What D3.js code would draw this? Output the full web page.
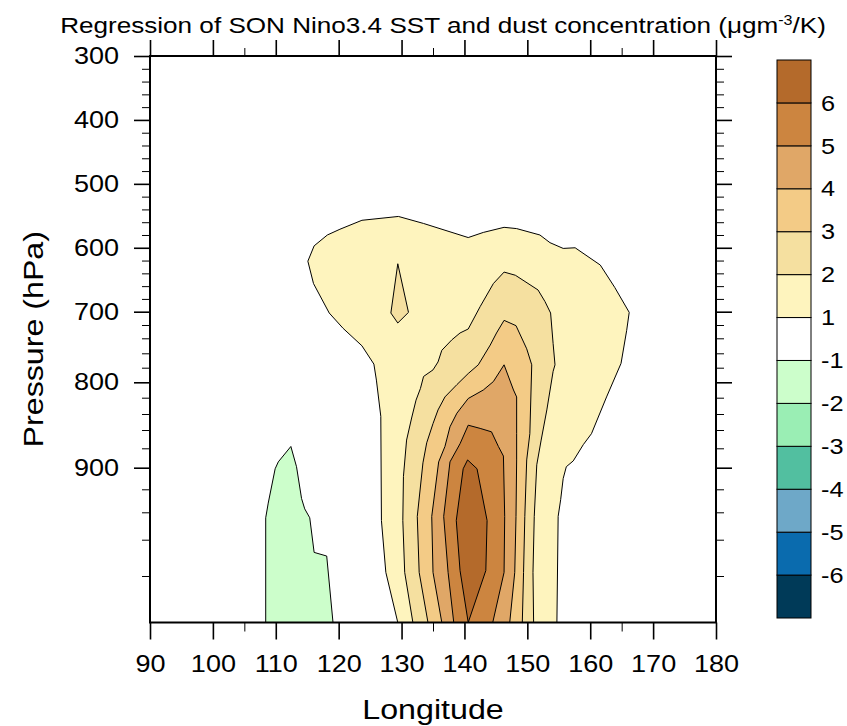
<!DOCTYPE html>
<html>
<head>
<meta charset="utf-8">
<title>Regression of SON Nino3.4 SST and dust concentration</title>
<script src="https://cdn.jsdelivr.net/npm/d3@7"></script>
<style>
    body { margin: 0; background: #fff; }
    svg text { font-family: "Liberation Sans", Arial, sans-serif; fill: #000; }
    .wide { transform-box: fill-box; transform-origin: center; transform: scaleX(1.15); }
    .ylab text { transform-box: fill-box; transform-origin: right center; transform: scaleX(1.15); }
    .xlab text { transform-box: fill-box; transform-origin: center; transform: scaleX(1.15); }
    .cblab { transform-box: fill-box; transform-origin: left center; transform: scaleX(1.15); }
</style>
</head>
<body>
<svg id="chart" width="847" height="726"></svg>
<script>
// contour intervals and their fills, lowest to highest
var levels = [-6, -5, -4, -3, -2, -1, 1, 2, 3, 4, 5, 6];
var fillColors = ["#003a58", "#0a6bae", "#6ea8c8", "#52bfa0", "#9aeeb4", "#ccfecb", "#ffffff",
                  "#fef4be", "#f5e0a0", "#f3cb86", "#e0a767", "#cc8540", "#b46a2b"];

// tick labels
var lonTicks = [90, 100, 110, 120, 130, 140, 150, 160, 170, 180];
var lonMinor = [105, 135, 165];
var presTicks = [300, 400, 500, 600, 700, 800, 900];
var presMinor = [320, 340, 360, 380, 420, 440, 460, 480, 520, 540, 560, 580, 620, 640, 660, 680,
                 720, 740, 760, 780, 820, 840, 860, 880, 920, 940, 960, 980];

// contour rings as [longitude, hPa]
var ringPos1 = [[129.4,1000],[127.5,978],[126.8,946],[126.7,843],[126.0,797],[125.6,775],[123.7,750],
    [120.7,725],[118.5,702],[116.0,656],[115.1,621],[116.1,597],[118.2,580],[120.2,571],[123.7,557],
    [129.5,551],[133.5,562],[140.6,584],[143.0,576],[146.3,568],[148.3,570],[152.0,580],[153.6,592],
    [155.7,601],[157.6,600],[161.6,627],[163.9,662],[166.2,701],[165.8,728],[164.9,774],[162.6,819],
    [160.2,864],[158.9,876],[157.3,893],[156.2,899],[155.7,910],[155.3,929],[154.9,943],[154.7,1000]];
var ringPos2 = [[131.8,1000],[130.5,978],[130.2,946],[130.3,908],[130.8,871],[131.6,845],[132.3,823],
    [133.0,808],[133.5,792],[135.0,783],[135.8,772],[136.4,756],[138.0,742],[139.3,732],[140.6,726],
    [142.5,692],[144.6,656],[146.3,638],[148.1,643],[151.7,666],[152.8,684],[153.7,702],[154.1,747],
    [154.4,776],[154.1,785],[153.1,835],[152.2,871],[151.5,897],[151.1,943],[150.9,978],[151.0,1000]];
var islandPos2 = [[129.4,625],[131.1,701],[129.4,717],[128.3,702]];
var ringPos3 = [[134.2,1000],[132.8,978],[132.5,943],[133.4,895],[134.0,874],[135.0,852],[135.8,835],
    [136.9,819],[138.8,803],[140.6,788],[142.2,776],[144.1,749],[145.1,732],[146.3,713],[148.2,721],
    [149.9,754],[150.7,776],[150.4,864],[149.9,892],[149.6,943],[149.4,978],[149.2,1000]];
var ringPos4 = [[136.4,1000],[135.0,978],[134.8,943],[135.9,894],[136.9,878],[137.7,856],[138.8,839],
    [140.6,821],[143.0,810],[144.6,799],[146.3,776],[147.8,810],[148.3,819],[148.3,864],[148.3,892],
    [148.2,943],[148.0,978],[147.2,1000]];
var ringPos5 = [[138.3,1000],[137.4,978],[136.7,943],[137.7,894],[139.3,875],[140.6,854],[142.5,858],
    [144.3,862],[145.4,878],[146.2,888],[146.4,943],[146.3,978],[144.5,1000]];
var ringPos6 = [[140.5,892],[142.0,901],[143.6,946],[143.4,977],[140.6,1000],[139.3,977],[138.7,946],
    [139.8,901]];
var ringNeg1 = [[108.4,1000],[108.4,944],[108.8,932],[109.9,901],[110.4,894],[112.4,878],[113.3,899],
    [114.1,928],[114.6,937],[115.4,944],[116.1,967],[118.1,969],[119.1,1000]];

// rings in drawing order, each with the interval index it fills
var rings = [
    {band: 7, pts: ringPos1},
    {band: 8, pts: ringPos2},
    {band: 8, pts: islandPos2},
    {band: 9, pts: ringPos3},
    {band: 10, pts: ringPos4},
    {band: 11, pts: ringPos5},
    {band: 12, pts: ringPos6},
    {band: 5, pts: ringNeg1}
];

var svg = d3.select("#chart");
var plotL = 150, plotR = 716, plotT = 56, plotB = 622.5;

var x = d3.scaleLinear().domain([90, 180]).range([plotL, plotR]);
// the pressure axis of the original is stretched near the surface, follow its tick spacing
var y = d3.scaleLinear()
    .domain([300, 700, 720, 740, 760, 780, 800, 820, 840, 860, 880, 900, 920, 940, 960, 980, 1000])
    .range([plotT, 311.7, 325, 338.3, 353.3, 367.7, 382.3, 397.7, 414, 430, 448.3, 467.7, 489.3,
            512.3, 539.7, 576, plotB]);

svg.append("clipPath").attr("id", "plotclip")
    .append("rect").attr("x", plotL).attr("y", plotT)
    .attr("width", plotR - plotL).attr("height", plotB - plotT);

var line = d3.line().x(function(d) { return x(d[0]); }).y(function(d) { return y(d[1]); });

svg.append("g").attr("clip-path", "url(#plotclip)")
    .selectAll("path").data(rings).enter().append("path")
    .attr("d", function(d) { return line(d.pts) + "Z"; })
    .attr("fill", function(d) { return fillColors[d.band]; })
    .attr("stroke", "#000")
    .attr("stroke-width", 1)
    .attr("stroke-linejoin", "round");

// axes: major and minor ticks on all four sides, labels on left and bottom
function addAxis(axis, tx, ty, cls, width) {
    var g = svg.append("g").attr("transform", "translate(" + tx + "," + ty + ")")
        .attr("class", cls).call(axis);
    g.select(".domain").remove();
    g.selectAll("line").attr("stroke", "#000").attr("stroke-width", width);
    g.selectAll("text").attr("font-size", "23.5px").attr("font-family", null);
    return g;
}
addAxis(d3.axisLeft(y).tickValues(presTicks).tickSize(16).tickSizeOuter(0).tickPadding(15), plotL, 0, "ylab", 1.6);
addAxis(d3.axisLeft(y).tickValues(presMinor).tickSize(8).tickSizeOuter(0).tickFormat(""), plotL, 0, "", 1);
addAxis(d3.axisRight(y).tickValues(presTicks).tickSize(16).tickSizeOuter(0).tickFormat(""), plotR, 0, "", 1.6);
addAxis(d3.axisRight(y).tickValues(presMinor).tickSize(8).tickSizeOuter(0).tickFormat(""), plotR, 0, "", 1);
addAxis(d3.axisBottom(x).tickValues(lonTicks).tickSize(17).tickSizeOuter(0).tickPadding(16), 0, plotB, "xlab", 1.6);
addAxis(d3.axisBottom(x).tickValues(lonMinor).tickSize(9).tickSizeOuter(0).tickFormat(""), 0, plotB, "", 1);
addAxis(d3.axisTop(x).tickValues(lonTicks).tickSize(16).tickSizeOuter(0).tickFormat(""), 0, plotT, "", 1.6);
addAxis(d3.axisTop(x).tickValues(lonMinor).tickSize(8).tickSizeOuter(0).tickFormat(""), 0, plotT, "", 1);

svg.append("rect").attr("x", plotL).attr("y", plotT)
    .attr("width", plotR - plotL).attr("height", plotB - plotT)
    .attr("fill", "none").attr("stroke", "#000").attr("stroke-width", 2);

// titles
var title = svg.append("text").attr("class", "wide")
    .attr("x", 443).attr("y", 33).attr("text-anchor", "middle").attr("font-size", "22.7px");
title.append("tspan").text("Regression of SON Nino3.4 SST and dust concentration (\u03bcgm");
title.append("tspan").attr("dy", -8).attr("font-size", "14px").text("-3");
title.append("tspan").attr("dy", 8).text("/K)");

svg.append("text").attr("class", "wide")
    .attr("x", (plotL + plotR) / 2).attr("y", 719).attr("text-anchor", "middle")
    .attr("font-size", "28px").text("Longitude");

svg.append("g").attr("transform", "translate(43," + ((plotT + plotB) / 2) + ") rotate(-90)")
    .append("text").attr("class", "wide").attr("text-anchor", "middle")
    .attr("font-size", "28px").text("Pressure (hPa)");

// colour bar
var cb = d3.scaleLinear().domain([0, fillColors.length]).range([618, 60]);
var cbx = 777, cbw = 34;
svg.append("g").selectAll("rect").data(fillColors).enter().append("rect")
    .attr("x", cbx).attr("width", cbw)
    .attr("y", function(d, i) { return cb(i + 1); })
    .attr("height", function(d, i) { return cb(i) - cb(i + 1); })
    .attr("fill", function(d) { return d; })
    .attr("stroke", "#000").attr("stroke-width", 1);

svg.append("g").selectAll("text").data(levels).enter().append("text")
    .attr("class", "cblab")
    .attr("x", 821)
    .attr("y", function(d, i) { return cb(i + 1); })
    .attr("dy", "0.35em")
    .attr("font-size", "22px")
    .text(function(d) { return d; });
</script>
</body>
</html>
